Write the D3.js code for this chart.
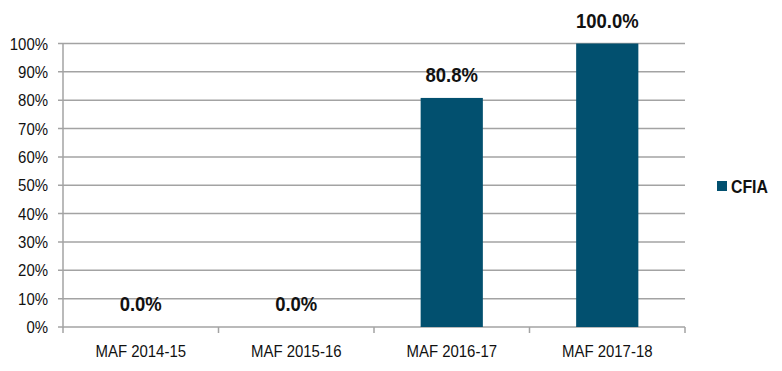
<!DOCTYPE html>
<html><head><meta charset="utf-8">
<script src="https://cdn.jsdelivr.net/npm/d3@7/dist/d3.min.js"></script>
<style>body{margin:0;background:#fff}svg{display:block}text{font-family:"Liberation Sans",Arial,sans-serif;fill:#111}</style>
</head><body><svg id="c" width="782" height="371"></svg>
<script>
const categories = ["MAF 2014-15","MAF 2015-16","MAF 2016-17","MAF 2017-18"];
const cfia = [0.0, 0.0, 80.8, 100.0];
const yTicks = [0,10,20,30,40,50,60,70,80,90,100];
const seriesName = "CFIA";

const svg = d3.select("#c");
const L = 63, R = 685, T = 43.5, B = 327;
const sx = 0.88;
const grid = "#a3a3a3", barColor = "#02506f";

const x = d3.scaleBand().domain(categories).range([L, R]).paddingInner(0.6).paddingOuter(0.3);
const y = d3.scaleLinear().domain([0, 100]).range([B, T]);

svg.append("g").selectAll("line").data(yTicks).join("line")
  .attr("x1", L - 5).attr("x2", R).attr("y1", d => y(d)).attr("y2", d => y(d))
  .attr("stroke", grid).attr("stroke-width", 1.5);
svg.append("line").attr("x1", L).attr("x2", L).attr("y1", T).attr("y2", B + 0.5)
  .attr("stroke", grid).attr("stroke-width", 1.5);
const step = x.step();
const bounds = d3.range(categories.length + 1).map(i => L + i * step);
svg.append("g").selectAll("line").data(bounds).join("line")
  .attr("x1", d => d).attr("x2", d => d).attr("y1", B).attr("y2", B + 6)
  .attr("stroke", grid).attr("stroke-width", 1.5);

function sText(g, xx, yy, txt, size, weight, anchor) {
  g.append("g").attr("transform", `translate(${xx},${yy}) scale(${sx},1)`)
    .append("text").attr("text-anchor", anchor).attr("font-size", size)
    .attr("font-weight", weight).text(txt);
}
const tg = svg.append("g");
yTicks.forEach(t => sText(tg, 48, y(t) + 6, t + "%", 17, "normal", "end"));
categories.forEach(c => sText(tg, x(c) + x.bandwidth() / 2, 357, c, 17, "normal", "middle"));

svg.append("g").selectAll("rect").data(cfia).join("rect")
  .attr("x", (d, i) => x(categories[i])).attr("width", x.bandwidth())
  .attr("y", d => y(d)).attr("height", d => B - y(d)).attr("fill", barColor);

cfia.forEach((v, i) => sText(tg, x(categories[i]) + x.bandwidth() / 2, y(v) - 16, v.toFixed(1) + "%", 21, "bold", "middle"));

svg.append("rect").attr("x", 717).attr("y", 181).attr("width", 10).attr("height", 10).attr("fill", barColor);
sText(tg, 731, 192.5, seriesName, 18, "bold", "start");
</script></body></html>
